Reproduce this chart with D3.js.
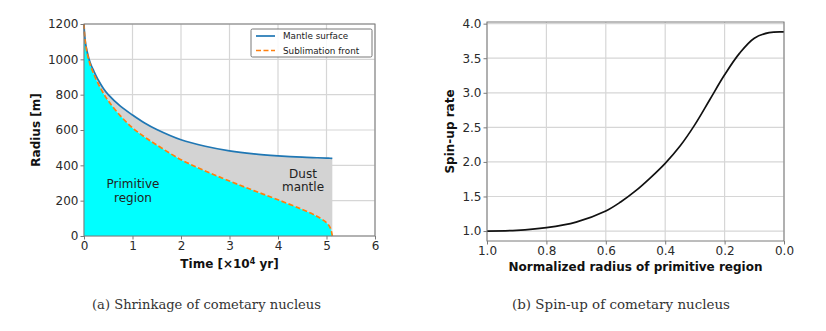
<!DOCTYPE html>
<html>
<head>
<meta charset="utf-8">
<script src="https://cdn.jsdelivr.net/npm/d3@7"></script>
<style>
  body { margin: 0; background: #fff; }
  svg { display: block; }
  .tick text { font-family: "DejaVu Sans", sans-serif; font-size: 12px; fill: #2a2a2a; }
  .lab { font-family: "DejaVu Sans", sans-serif; font-size: 12px; font-weight: bold; fill: #111; }
  .cap { font-family: "DejaVu Serif", serif; font-size: 12.5px; fill: #333; }
</style>
</head>
<body>
<svg id="chart" width="826" height="331"></svg>
<script>
// (a) shrinkage of the nucleus, time in 1e4 yr
const time = [0, 0.01, 0.03, 0.06, 0.1, 0.15, 0.2, 0.3, 0.4, 0.5, 0.75, 1, 1.25, 1.5, 2, 2.5, 3, 3.5, 4, 4.5, 4.8, 5.0, 5.08, 5.12];
const mantleSurface = [1200, 1150, 1095, 1050, 1005, 965, 935, 880, 835, 800, 735, 685, 640, 603, 545, 508, 482, 465, 454, 446, 443, 441, 440, 440];
const sublimationFront = [1200, 1148, 1090, 1042, 995, 952, 918, 858, 808, 765, 680, 612, 560, 515, 432, 368, 311, 257, 205, 150, 112, 75, 45, 0];
const timeTicks = [0, 1, 2, 3, 4, 5, 6];
const radiusTicks = [0, 200, 400, 600, 800, 1000, 1200];

// (b) spin-up vs normalized radius of primitive region
const normRadius = [1.0, 0.9, 0.8, 0.7, 0.6, 0.55, 0.5, 0.45, 0.4, 0.35, 0.3, 0.25, 0.2, 0.15, 0.1, 0.05, 0.0];
const spinUp = [1.0, 1.01, 1.05, 1.13, 1.29, 1.42, 1.58, 1.77, 1.98, 2.23, 2.54, 2.9, 3.26, 3.57, 3.79, 3.87, 3.88];
const normTicks = [1.0, 0.8, 0.6, 0.4, 0.2, 0.0];
const spinTicks = [1.0, 1.5, 2.0, 2.5, 3.0, 3.5, 4.0];

const svg = d3.select("#chart");
const gridCol = "#d6d6d6", frameCol = "#7a7a7a";
const frontDash = "5,2.5";

function grid(g, x, y, xt, yt) {
  const [x0, x1] = x.range(), [y0, y1] = y.range();
  g.append("g").selectAll("line").data(xt).join("line")
    .attr("x1", d => x(d)).attr("x2", d => x(d)).attr("y1", y0).attr("y2", y1)
    .attr("stroke", gridCol).attr("stroke-width", 1.2);
  g.append("g").selectAll("line").data(yt).join("line")
    .attr("y1", d => y(d)).attr("y2", d => y(d)).attr("x1", x0).attr("x2", x1)
    .attr("stroke", gridCol).attr("stroke-width", 1.2);
}

function axes(g, x, y, xt, yt, xfmt, yfmt) {
  const [x0, x1] = x.range(), [y0, y1] = y.range();
  g.append("rect").attr("x", Math.min(x0, x1)).attr("y", y1)
    .attr("width", Math.abs(x1 - x0)).attr("height", y0 - y1)
    .attr("fill", "none").attr("stroke", frameCol).attr("stroke-width", 1);
  const ax = g.append("g").attr("transform", `translate(0,${y0})`)
    .call(d3.axisBottom(x).tickValues(xt).tickFormat(xfmt).tickSize(3.5).tickPadding(2));
  const ay = g.append("g").attr("transform", `translate(${Math.min(x0, x1)},0)`)
    .call(d3.axisLeft(y).tickValues(yt).tickFormat(yfmt).tickSize(3.5).tickPadding(2));
  [ax, ay].forEach(a => {
    a.select(".domain").remove();
    a.selectAll(".tick line").attr("stroke", frameCol);
  });
}

// ---------- panel (a)
const xa = d3.scaleLinear().domain([0, 6]).range([84, 375]);
const ya = d3.scaleLinear().domain([0, 1200]).range([236, 24]);
const ga = svg.append("g");
grid(ga, xa, ya, timeTicks, radiusTicks);

const rowsA = time.map((t, i) => ({t, s: mantleSurface[i], f: sublimationFront[i]}));
const curve = d3.curveCatmullRom.alpha(0.5);
ga.append("path").datum(rowsA)
  .attr("d", d3.area().x(d => xa(d.t)).y0(d => ya(d.f)).y1(d => ya(d.s)).curve(curve))
  .attr("fill", "#d3d3d3");
ga.append("path").datum(rowsA)
  .attr("d", d3.area().x(d => xa(d.t)).y0(ya(0)).y1(d => ya(d.f)).curve(curve))
  .attr("fill", "#00ffff");
ga.append("path").datum(rowsA)
  .attr("d", d3.line().x(d => xa(d.t)).y(d => ya(d.s)).curve(curve))
  .attr("fill", "none").attr("stroke", "#1f77b4").attr("stroke-width", 1.7);
ga.append("path").datum(rowsA)
  .attr("d", d3.line().x(d => xa(d.t)).y(d => ya(d.f)).curve(curve))
  .attr("fill", "none").attr("stroke", "#ff7f0e").attr("stroke-width", 1.7)
  .attr("stroke-dasharray", frontDash);

axes(ga, xa, ya, timeTicks, radiusTicks, d3.format("d"), d3.format("d"));

// region labels
const regionFont = g => g.attr("text-anchor", "middle")
  .attr("font-family", "DejaVu Sans, sans-serif").attr("font-size", 12).attr("fill", "#222");
ga.append("text").attr("y", 188).call(regionFont)
  .selectAll("tspan").data(["Primitive", "region"]).join("tspan")
  .attr("x", 133).attr("dy", (d, i) => i ? 14 : 0).text(d => d);
ga.append("text").attr("y", 178).call(regionFont)
  .selectAll("tspan").data(["Dust", "mantle"]).join("tspan")
  .attr("x", 303).attr("dy", (d, i) => i ? 13 : 0).text(d => d);

// legend
const lg = ga.append("g");
lg.append("rect").attr("x", 251).attr("y", 29).attr("width", 121).attr("height", 28)
  .attr("fill", "#fff").attr("fill-opacity", 0.85).attr("stroke", "#555").attr("stroke-width", 0.8).attr("rx", 1.5);
[["Mantle surface", "#1f77b4", null], ["Sublimation front", "#ff7f0e", frontDash]].forEach(([name, col, dash], i) => {
  const yy = 36 + i * 14.5;
  lg.append("line").attr("x1", 256).attr("x2", 275).attr("y1", yy).attr("y2", yy)
    .attr("stroke", col).attr("stroke-width", 1.7).attr("stroke-dasharray", dash);
  lg.append("text").attr("x", 283).attr("y", yy + 3).attr("font-family", "DejaVu Sans, sans-serif")
    .attr("font-size", 8.8).attr("fill", "#222").text(name);
});

ga.append("text").attr("class", "lab").attr("x", xa(3)).attr("y", 268).attr("text-anchor", "middle")
  .html('Time [×10<tspan dy="-4" font-size="8">4</tspan><tspan dy="4"> yr]</tspan>');
ga.append("text").attr("class", "lab").attr("transform", `translate(40,${ya(600)}) rotate(-90)`)
  .attr("text-anchor", "middle").text("Radius [m]");

// ---------- panel (b)
const xb = d3.scaleLinear().domain([1.0, 0.0]).range([487, 784]);
const yb = d3.scaleLinear().domain([0.856, 4.024]).range([241, 22]);
const gb = svg.append("g");
grid(gb, xb, yb, normTicks, spinTicks);
gb.append("path").datum(normRadius.map((r, i) => ({r, v: spinUp[i]})))
  .attr("d", d3.line().x(d => xb(d.r)).y(d => yb(d.v)).curve(d3.curveCatmullRom.alpha(0.5)))
  .attr("fill", "none").attr("stroke", "#111").attr("stroke-width", 1.7);
axes(gb, xb, yb, normTicks, spinTicks, d3.format(".1f"), d3.format(".1f"));
gb.append("text").attr("class", "lab").attr("x", (487 + 784) / 2).attr("y", 271).attr("text-anchor", "middle")
  .text("Normalized radius of primitive region");
gb.append("text").attr("class", "lab").attr("transform", `translate(454,${(241 + 22) / 2}) rotate(-90)`)
  .attr("text-anchor", "middle").text("Spin-up rate");

// captions
svg.append("text").attr("class", "cap").attr("x", 92).attr("y", 309)
  .attr("textLength", 229).attr("lengthAdjust", "spacingAndGlyphs")
  .text("(a) Shrinkage of cometary nucleus");
svg.append("text").attr("class", "cap").attr("x", 512).attr("y", 309)
  .attr("textLength", 218).attr("lengthAdjust", "spacingAndGlyphs")
  .text("(b) Spin-up of cometary nucleus");
</script>
</body>
</html>
